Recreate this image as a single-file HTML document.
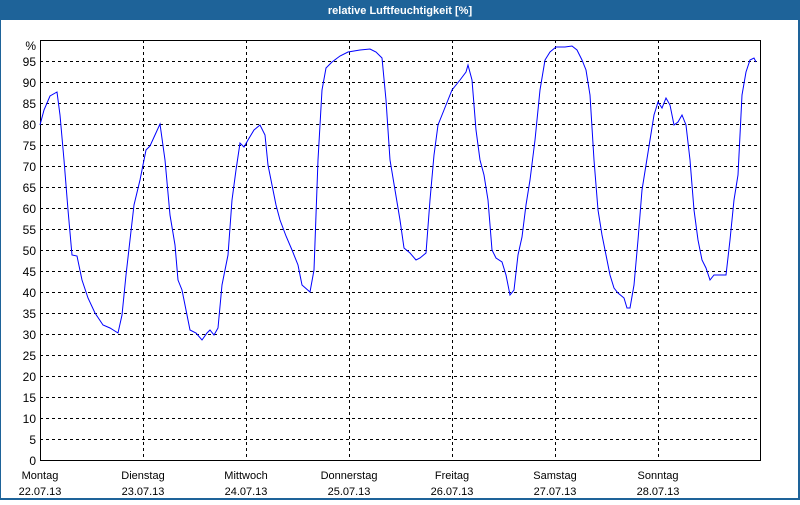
<!DOCTYPE html>
<html><head><meta charset="utf-8"><style>
html,body{margin:0;padding:0;background:#fff}
body{width:800px;height:500px;overflow:hidden}
text{font-family:"Liberation Sans",sans-serif}
</style></head><body>
<svg width="800" height="500" xmlns="http://www.w3.org/2000/svg">
<rect x="0" y="0" width="800" height="500" fill="#1e6399"/>
<rect x="1" y="20" width="797" height="478" fill="#fff"/>
<text x="400" y="14" fill="#fff" font-size="11" font-weight="bold" text-anchor="middle">relative Luftfeuchtigkeit [%]</text>
<g stroke="#000" stroke-dasharray="3,3" stroke-width="1" shape-rendering="crispEdges">
<line x1="40" x2="760" y1="61.5" y2="61.5"/><line x1="40" x2="760" y1="82.5" y2="82.5"/><line x1="40" x2="760" y1="103.5" y2="103.5"/><line x1="40" x2="760" y1="124.5" y2="124.5"/><line x1="40" x2="760" y1="145.5" y2="145.5"/><line x1="40" x2="760" y1="166.5" y2="166.5"/><line x1="40" x2="760" y1="187.5" y2="187.5"/><line x1="40" x2="760" y1="208.5" y2="208.5"/><line x1="40" x2="760" y1="229.5" y2="229.5"/><line x1="40" x2="760" y1="250.5" y2="250.5"/><line x1="40" x2="760" y1="271.5" y2="271.5"/><line x1="40" x2="760" y1="292.5" y2="292.5"/><line x1="40" x2="760" y1="313.5" y2="313.5"/><line x1="40" x2="760" y1="334.5" y2="334.5"/><line x1="40" x2="760" y1="355.5" y2="355.5"/><line x1="40" x2="760" y1="376.5" y2="376.5"/><line x1="40" x2="760" y1="397.5" y2="397.5"/><line x1="40" x2="760" y1="418.5" y2="418.5"/><line x1="40" x2="760" y1="439.5" y2="439.5"/>
<line x1="143.5" x2="143.5" y1="40" y2="460"/><line x1="246.5" x2="246.5" y1="40" y2="460"/><line x1="349.5" x2="349.5" y1="40" y2="460"/><line x1="452.5" x2="452.5" y1="40" y2="460"/><line x1="555.5" x2="555.5" y1="40" y2="460"/><line x1="658.5" x2="658.5" y1="40" y2="460"/>
</g>
<rect x="40.5" y="40.5" width="720" height="420" fill="none" stroke="#000" shape-rendering="crispEdges"/>
<g font-size="12" fill="#000" text-anchor="end">
<text x="36" y="50">%</text>
<text x="36" y="66">95</text><text x="36" y="87">90</text><text x="36" y="108">85</text><text x="36" y="129">80</text><text x="36" y="150">75</text><text x="36" y="171">70</text><text x="36" y="192">65</text><text x="36" y="213">60</text><text x="36" y="234">55</text><text x="36" y="255">50</text><text x="36" y="276">45</text><text x="36" y="297">40</text><text x="36" y="318">35</text><text x="36" y="339">30</text><text x="36" y="360">25</text><text x="36" y="381">20</text><text x="36" y="402">15</text><text x="36" y="423">10</text><text x="36" y="444">5</text><text x="36" y="465">0</text>
</g>
<g font-size="11" fill="#000" text-anchor="middle">
<text x="40" y="479">Montag</text><text x="40" y="495">22.07.13</text>
<text x="143" y="479">Dienstag</text><text x="143" y="495">23.07.13</text>
<text x="246" y="479">Mittwoch</text><text x="246" y="495">24.07.13</text>
<text x="349" y="479">Donnerstag</text><text x="349" y="495">25.07.13</text>
<text x="452" y="479">Freitag</text><text x="452" y="495">26.07.13</text>
<text x="555" y="479">Samstag</text><text x="555" y="495">27.07.13</text>
<text x="658" y="479">Sonntag</text><text x="658" y="495">28.07.13</text>
</g>
<polyline fill="none" stroke="#0000ff" stroke-width="1" points="40,125 44,110 50,96 57,92 60,115 64,160 68,210 72,255 77,256 82,280 88,298 95,313 103,325 110,328 118,333 122,315 126,275 130,240 134,205 140,180 146,150 150,146 155,135 160,124 165,160 170,215 175,245 178,280 182,290 186,310 190,330 196,333 202,340 207,333 210,330 214,335 218,328 222,285 228,255 232,200 236,170 240,143 244,147 248,140 254,130 260,125 265,135 268,165 272,185 276,205 280,220 286,236 292,250 298,265 302,285 310,292 314,270 318,160 322,90 326,68 332,62 340,56 348,52 360,50 370,49 376,52 382,58 386,100 390,160 395,190 400,220 404,248 410,253 416,260 420,258 426,253 430,200 434,155 438,125 444,110 452,90 460,80 466,72 468,65 472,80 476,130 480,160 484,175 488,200 492,250 496,258 502,262 506,275 510,295 514,290 518,255 522,237 526,205 530,180 535,140 540,90 545,60 550,52 556,47 565,47 572,46 577,50 582,60 586,70 590,95 594,160 598,210 602,235 606,255 610,275 614,288 618,293 624,298 627,308 630,308 634,285 638,240 642,190 646,165 650,140 654,115 658,102 662,108 666,98 670,105 674,125 678,122 682,115 686,125 690,160 694,210 698,240 702,260 706,268 710,280 714,275 720,275 726,275 730,240 734,200 738,175 742,95 746,72 750,60 754,58 756,62"/>
</svg>
</body></html>
